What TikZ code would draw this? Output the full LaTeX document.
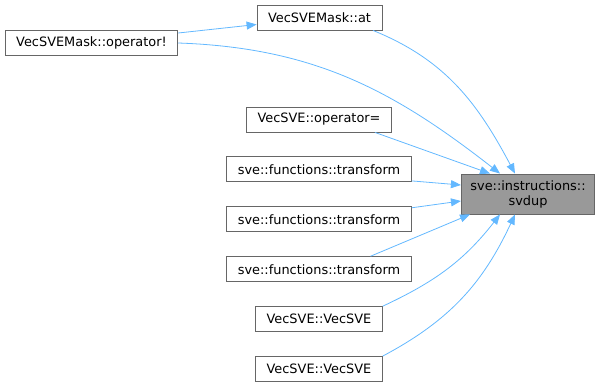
\documentclass[tikz,border=0pt]{standalone}
\usepackage{fontspec}
\setmainfont{DejaVu Sans}
\usetikzlibrary{arrows.meta, positioning}

\definecolor{edgeblue}{HTML}{63B8FF}
\definecolor{boxgray}{HTML}{666666}
\definecolor{focusgray}{HTML}{999999}

\begin{document}
\begin{tikzpicture}[
    x=1pt, y=1pt,
    every node/.style={
        draw=boxgray,
        line width=0.9pt,
        align=center,
        inner xsep=11pt,
        inner ysep=0pt,
        minimum height=25pt,
        font=\fontsize{12.9}{15}\selectfont
    },
    focus/.style={fill=focusgray, minimum height=40pt, inner xsep=9pt},
    arrow/.style={-{Triangle[length=10pt,width=8pt]}, draw=edgeblue, line width=0.8pt},
    node distance=24pt
]
\useasboundingbox (0,0) rectangle (603,384);

% ------------------------
% Called function
% ------------------------
\node[focus] (svdup) at (528,190) {sve::instructions::\\svdup};

% ------------------------
% Callers
% ------------------------
\node (at) at (319.5,366.5) {VecSVEMask::at};
\node (opnot) at (91.5,341) {VecSVEMask::operator!};
\node (opeq) at (319,264.5) {VecSVE::operator=};

\node (trans1) [below=of opeq] {sve::functions::transform};
\node (trans2) [below=of trans1] {sve::functions::transform};
\node (trans3) [below=of trans2] {sve::functions::transform};
\node (ctor1) [below=of trans3] {VecSVE::VecSVE};
\node (ctor2) [below=of ctor1] {VecSVE::VecSVE};

% ------------------------
% Arrows
% ------------------------
\draw[arrow] ([yshift=10pt]opnot.east) -- ([yshift=-7pt]at.west);
\draw[arrow] (opnot.east) to[out=-2, in=142] ([xshift=-28pt]svdup.north);
\draw[arrow] ([xshift=53.5pt]at.south) to[out=-22, in=118] ([xshift=-13pt]svdup.north);
\draw[arrow] ([xshift=56pt]opeq.south) -- ([xshift=-38pt]svdup.north);
\draw[arrow] ([yshift=-11.5pt]trans1.east) -- ([yshift=9pt]svdup.west);
\draw[arrow] ([yshift=11.5pt]trans2.east) -- ([yshift=-7pt]svdup.west);
\draw[arrow] ([xshift=51.5pt]trans3.north) -- ([xshift=-58pt]svdup.south);
\draw[arrow] (ctor1.north east) to[out=25, in=-128] ([xshift=-28pt]svdup.south);
\draw[arrow] (ctor2.north east) to[out=28, in=-115] ([xshift=-13pt]svdup.south);

\end{tikzpicture}
\end{document}
